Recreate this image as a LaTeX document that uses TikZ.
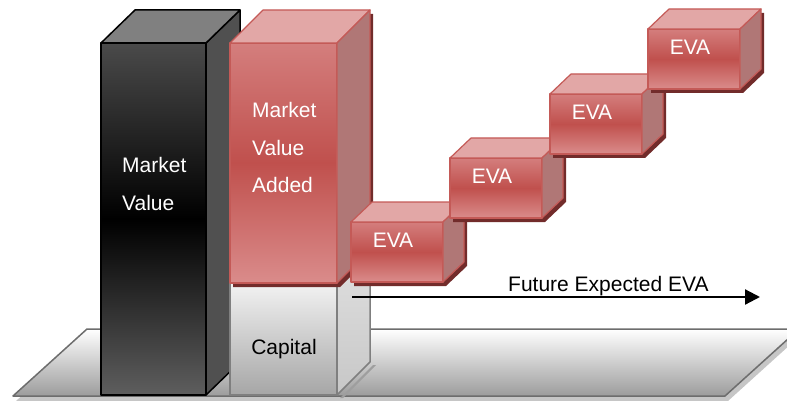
\documentclass[tikz,border=0pt]{standalone}
\usepackage{fontspec}
\setmainfont{Liberation Sans}
\usetikzlibrary{arrows.meta}

% palette
\definecolor{redline}{HTML}{C45A57}
\definecolor{redhigh}{HTML}{D47E7D}
\definecolor{redmid}{HTML}{C0504D}
\definecolor{redlow}{HTML}{DA8C8B}
\definecolor{redtop}{HTML}{E2A7A6}
\definecolor{redside}{HTML}{B07776}
\definecolor{redshadow}{HTML}{722C2B}
\definecolor{blkhigh}{HTML}{4A4A4A}
\definecolor{blklow}{HTML}{5E5E5E}
\definecolor{blktop}{HTML}{808080}
\definecolor{blkside}{HTML}{505050}
\definecolor{greyline}{HTML}{7F7F7F}
\definecolor{floorline}{HTML}{6D6D6D}
\definecolor{floorlow}{HTML}{9C9C9C}
\definecolor{floorshadow}{HTML}{C6C6C6}

% one EVA cube: name, x and y of the front top-left corner
\newcommand\evablock[3]{%
  \begin{scope}[shift={(#2,#3)}]
    \fill[redshadow] (3,4) -- (24,-16) -- (116,-16) -- (116,44) -- (95,64) -- (3,64) -- cycle;
    \path[redfront] (0,0) rectangle (92,60);
    \path[redcap] (0,0) -- (21,-20) -- (113,-20) -- (92,0) -- cycle;
    \path[redwall] (92,0) -- (113,-20) -- (113,40) -- (92,60) -- cycle;
    \node[whitelabel] (#1) at (42,18) {EVA};
  \end{scope}}

\begin{document}
\begin{tikzpicture}[x=1pt,y=-1pt,
  redfront/.style={draw=redline, line width=1.2pt, line join=round,
    top color=redhigh, bottom color=redlow, middle color=redmid},
  redcap/.style={draw=redline, line width=1.2pt, line join=round, fill=redtop},
  redwall/.style={draw=redline, line width=1.2pt, line join=round, fill=redside},
  blkfront/.style={draw=black, line width=1.5pt, line join=round,
    top color=blkhigh, bottom color=blklow, middle color=black},
  blkcap/.style={draw=black, line width=1.5pt, line join=round, fill=blktop},
  blkwall/.style={draw=black, line width=1.5pt, line join=round, fill=blkside},
  greyfront/.style={draw=greyline, line width=1.5pt, line join=round,
    top color=black!5, bottom color=black!35},
  greywall/.style={draw=greyline, line width=1.5pt, line join=round,
    top color=black!12, bottom color=black!22},
  labeltext/.style={font=\fontsize{21}{37.5}\selectfont, inner sep=0pt},
  whitelabel/.style={labeltext, text=white},
  multilabel/.style={whitelabel, align=left, anchor=base west},
  futurearrow/.style={line width=2.2pt, -{Triangle[length=15pt,width=15pt]}}]

\useasboundingbox (0,0) rectangle (787,401);
\clip (0,0) rectangle (787,401);

% floor slab with its shadow
\fill[floorshadow] (16,401) -- (728,401) -- (802,334) -- (90,334) -- cycle;
\draw[draw=floorline, line width=1.5pt, line join=round,
  top color=white, bottom color=floorlow]
  (13,396) -- (725,396) -- (799,329) -- (87,329) -- cycle;

% Market Value column
\path[blkwall] (206,43) -- (240,10) -- (240,362) -- (206,395) -- cycle;
\path[blkcap] (101,43) -- (135,10) -- (240,10) -- (206,43) -- cycle;
\path[blkfront] (101,43) rectangle (206,395);
\node[multilabel] (mv) at (122,210) {Market\\Value};

% Capital block
\fill[floorshadow!80!black] (340,398) -- (373,365) -- (376,365) -- (343,398) -- cycle;
\path[greywall] (337,283) -- (370,250) -- (370,362) -- (337,395) -- cycle;
\path[greyfront] (230,283) rectangle (337,395);
\node[labeltext, text=black] (cap) at (284,349) {Capital};

% Market Value Added block
\fill[redshadow] (233,47) -- (266,14) -- (373,14) -- (373,254) -- (340,287) -- (233,287) -- cycle;
\path[redfront] (230,43) rectangle (337,283);
\path[redcap] (230,43) -- (263,10) -- (370,10) -- (337,43) -- cycle;
\path[redwall] (337,43) -- (370,10) -- (370,250) -- (337,283) -- cycle;
\node[multilabel] (mva) at (252,192.5) {Market\\Value\\Added};

% time axis
\coordinate (axisstart) at (352,297);
\coordinate (axisend) at (760,297);
\draw[futurearrow] (axisstart) -- (axisend);
\node[labeltext, anchor=base west] (future) at (508,291) {Future Expected EVA};

% staircase of EVA cubes
\evablock{eva1}{351}{222}
\evablock{eva2}{450}{158}
\evablock{eva3}{550}{94}
\evablock{eva4}{648}{29}

\end{tikzpicture}
\end{document}
